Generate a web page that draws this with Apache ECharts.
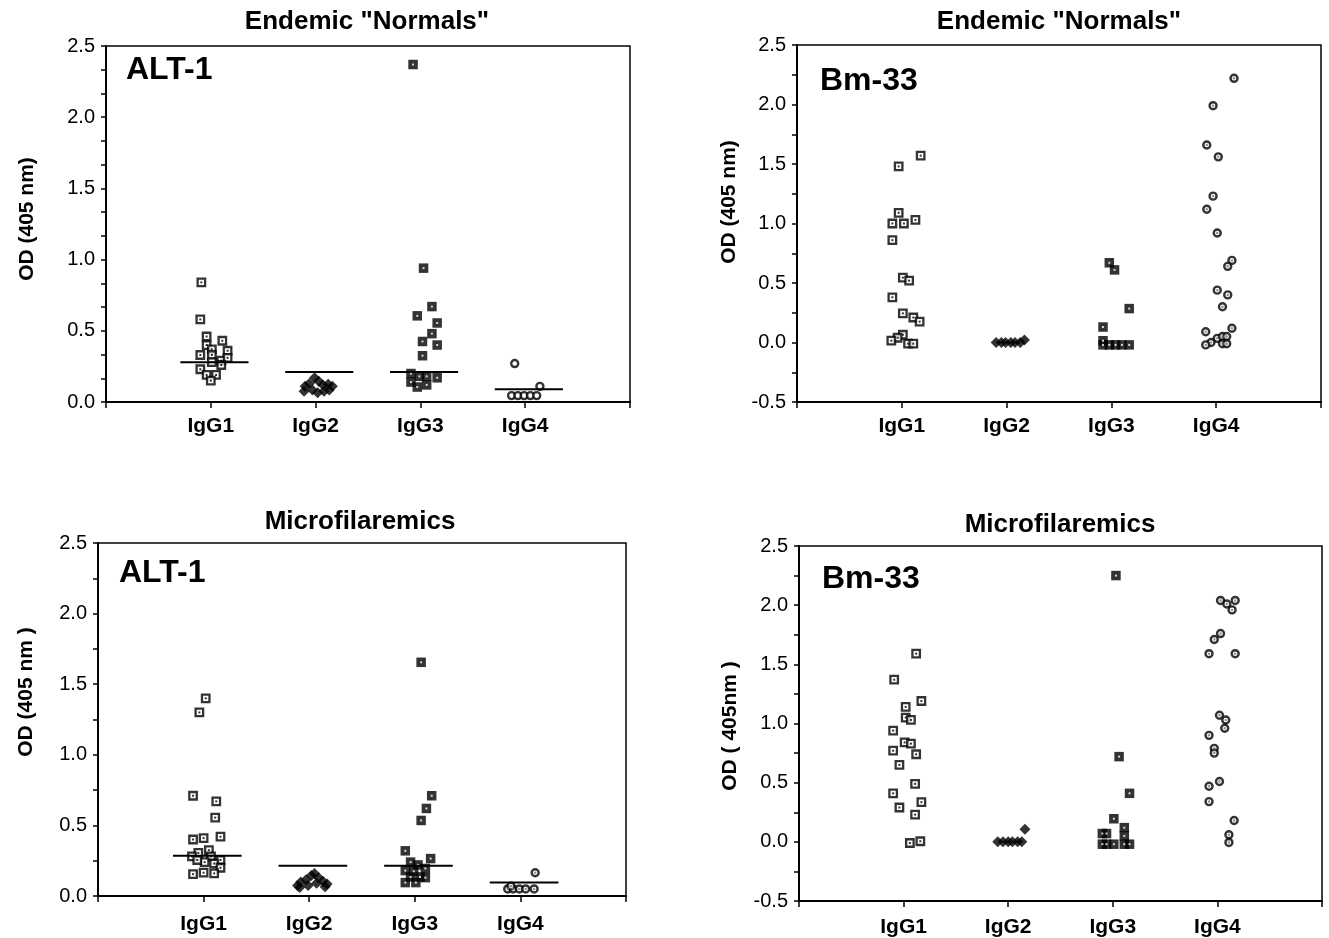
<!DOCTYPE html>
<html><head><meta charset="utf-8">
<script src="https://cdn.jsdelivr.net/npm/echarts@6/dist/echarts.min.js"></script>
<style>html,body{margin:0;padding:0;background:#fff}#c{width:1329px;height:938px}</style>
</head><body><div id="c"></div>
<script>
// ---------- DATA (x = jitter offset from category centre in category units, y = OD) ----------
const categories = ['IgG1', 'IgG2', 'IgG3', 'IgG4'];
const panelTitles = ['Endemic "Normals"', 'Endemic "Normals"', 'Microfilaremics', 'Microfilaremics'];
const antigenLabels = ['ALT-1', 'Bm-33', 'ALT-1', 'Bm-33'];
const yAxisTitles = ['OD (405 nm)', 'OD (405 nm)', 'OD (405 nm )', 'OD ( 405nm )'];
const altTickLabels = ['0.0', '0.5', '1.0', '1.5', '2.0', '2.5'];
const bmTickLabels = ['-0.5', '0.0', '0.5', '1.0', '1.5', '2.0', '2.5'];

// Panel A: ALT-1, Endemic normals
const alt1NormIgG1 = [[-0.09,0.84],[-0.10,0.58],[-0.04,0.46],[-0.04,0.40],[0.11,0.43],[0.01,0.37],[0.16,0.36],[-0.10,0.33],[0.01,0.33],[0.10,0.29],[0.16,0.31],[0.01,0.28],[0.10,0.26],[-0.10,0.23],[-0.04,0.19],[0.05,0.19],[0.00,0.15]];
const alt1NormIgG2 = [[-0.10,0.11],[-0.06,0.13],[-0.01,0.17],[0.03,0.145],[0.07,0.12],[0.12,0.125],[0.16,0.11],[-0.03,0.085],[0.02,0.065],[0.08,0.075],[-0.11,0.075],[0.13,0.085]];
const alt1NormIgG3 = [[-0.07,2.37],[0.03,0.94],[0.11,0.67],[-0.03,0.605],[0.16,0.555],[0.11,0.48],[0.02,0.425],[0.16,0.40],[0.02,0.325],[-0.09,0.20],[-0.01,0.18],[0.06,0.18],[0.16,0.17],[-0.09,0.14],[-0.03,0.105],[0.06,0.12]];
const alt1NormIgG4 = [[-0.10,0.27],[0.14,0.11],[-0.13,0.045],[-0.07,0.045],[-0.01,0.045],[0.05,0.045],[0.11,0.045]];
const alt1NormMeans = [0.28, 0.21, 0.21, 0.09];

// Panel B: Bm-33, Endemic normals
const bm33NormIgG1 = [[0.18,1.57],[-0.03,1.48],[-0.03,1.09],[0.13,1.03],[-0.09,1.00],[0.02,1.00],[-0.09,0.86],[0.01,0.545],[0.07,0.52],[-0.09,0.38],[0.01,0.245],[0.11,0.21],[0.17,0.175],[0.01,0.065],[-0.04,0.04],[-0.10,0.015],[0.06,-0.01],[0.11,-0.01]];
const bm33NormIgG2 = [[-0.10,0.0],[-0.05,0.0],[-0.01,0.0],[0.04,0.0],[0.08,0.0],[0.13,0.0],[0.17,0.02]];
const bm33NormIgG3 = [[-0.02,0.67],[0.03,0.61],[0.17,0.285],[-0.08,0.13],[-0.08,0.015],[-0.08,-0.02],[-0.02,-0.02],[0.04,-0.02],[0.10,-0.02],[0.17,-0.02]];
const bm33NormIgG4 = [[0.17,2.22],[-0.03,1.99],[-0.09,1.66],[0.02,1.56],[-0.03,1.23],[-0.09,1.12],[0.01,0.92],[0.15,0.69],[0.11,0.64],[0.01,0.44],[0.11,0.40],[0.06,0.30],[0.15,0.12],[-0.10,0.09],[0.01,0.035],[0.06,0.05],[0.10,0.05],[-0.05,0.0],[-0.10,-0.02],[0.06,-0.01],[0.10,-0.01]];

// Panel C: ALT-1, Microfilaremics
const alt1MicroIgG1 = [[0.02,1.40],[-0.04,1.30],[-0.10,0.71],[0.12,0.67],[0.11,0.555],[0.16,0.42],[-0.10,0.40],[0.00,0.41],[0.05,0.325],[-0.05,0.305],[-0.11,0.28],[0.07,0.28],[0.01,0.24],[-0.06,0.255],[0.16,0.255],[0.10,0.23],[0.16,0.20],[-0.10,0.155],[0.00,0.165],[0.10,0.16]];
const alt1MicroIgG2 = [[-0.11,0.075],[-0.08,0.10],[-0.03,0.115],[0.02,0.145],[0.05,0.16],[0.09,0.13],[0.13,0.105],[0.17,0.085],[-0.09,0.06],[-0.01,0.075],[0.07,0.09],[0.15,0.065]];
const alt1MicroIgG3 = [[0.06,1.655],[0.16,0.71],[0.11,0.62],[0.06,0.535],[-0.09,0.32],[0.15,0.265],[-0.04,0.24],[0.03,0.22],[-0.09,0.18],[-0.01,0.175],[0.10,0.195],[0.05,0.135],[-0.09,0.095],[0.01,0.095],[0.10,0.13],[-0.04,0.135]];
const alt1MicroIgG4 = [[0.14,0.165],[-0.12,0.05],[-0.07,0.05],[-0.01,0.05],[0.05,0.05],[0.13,0.05],[-0.09,0.07]];
const alt1MicroMeans = [0.285, 0.215, 0.215, 0.095];

// Panel D: Bm-33, Microfilaremics
const bm33MicroIgG1 = [[0.12,1.59],[-0.09,1.37],[0.17,1.19],[0.02,1.14],[0.02,1.05],[0.07,1.03],[-0.10,0.94],[0.01,0.84],[0.07,0.83],[-0.10,0.77],[0.12,0.74],[-0.04,0.65],[0.11,0.49],[-0.10,0.41],[0.17,0.335],[-0.04,0.29],[0.11,0.23],[0.06,-0.01],[0.16,0.005]];
const bm33MicroIgG2 = [[-0.10,0.0],[-0.05,0.0],[0.00,0.0],[0.04,0.0],[0.09,0.0],[0.13,0.0],[0.16,0.107]];
const bm33MicroIgG3 = [[0.03,2.25],[0.06,0.72],[0.16,0.41],[0.01,0.195],[0.11,0.12],[-0.06,0.07],[0.11,0.05],[-0.10,0.07],[-0.10,-0.02],[-0.06,-0.02],[0.01,-0.02],[0.11,-0.02],[0.16,-0.02]];
const bm33MicroIgG4 = [[0.03,2.04],[0.17,2.04],[0.09,2.01],[0.14,1.96],[0.03,1.76],[-0.03,1.71],[-0.08,1.59],[0.17,1.59],[0.02,1.07],[0.08,1.03],[0.07,0.96],[-0.08,0.90],[-0.03,0.79],[-0.03,0.75],[0.02,0.51],[-0.08,0.47],[-0.08,0.34],[0.16,0.18],[0.11,0.06],[0.11,-0.005]];

// ---------- LAYOUT / STYLE ----------
const FONT = '"Liberation Sans", Arial, Helvetica, sans-serif';
const panels = [
  { box: [106, 46, 524, 356], yMin: 0, yMax: 2.5, minor: 3, groups: [alt1NormIgG1, alt1NormIgG2, alt1NormIgG3, alt1NormIgG4], means: alt1NormMeans, ticks: altTickLabels, dotG4: false,
    title: [367, 22], yName: [27, 219], label: [126, 70], xMargin: 14 },
  { box: [797, 45, 524, 357], yMin: -0.5, yMax: 2.5, minor: 2, groups: [bm33NormIgG1, bm33NormIgG2, bm33NormIgG3, bm33NormIgG4], means: null, ticks: bmTickLabels, dotG4: true,
    title: [1059, 22], yName: [729, 202], label: [820, 81], xMargin: 14 },
  { box: [98, 543, 528, 353], yMin: 0, yMax: 2.5, minor: 2, groups: [alt1MicroIgG1, alt1MicroIgG2, alt1MicroIgG3, alt1MicroIgG4], means: alt1MicroMeans, ticks: altTickLabels, dotG4: true,
    title: [360, 522], yName: [26, 692], label: [119, 573], xMargin: 18 },
  { box: [799, 546, 523, 355], yMin: -0.5, yMax: 2.5, minor: 2, groups: [bm33MicroIgG1, bm33MicroIgG2, bm33MicroIgG3, bm33MicroIgG4], means: null, ticks: bmTickLabels, dotG4: true,
    title: [1060, 525], yName: [730, 726], label: [822, 579], xMargin: 16 }
];

const grids = [], xAxes = [], yAxes = [], series = [], graphics = [];

panels.forEach((p, i) => {
  grids.push({ left: p.box[0], top: p.box[1], width: p.box[2], height: p.box[3], containLabel: false, outerBoundsMode: 'none',
    show: true, borderColor: '#000', borderWidth: 1.5, backgroundColor: 'transparent' });
  xAxes.push({ gridIndex: i, type: 'value', min: 0, max: 5, interval: 1,
    axisLine: { show: true, onZero: false, lineStyle: { color: '#000', width: 2 } },
    axisTick: { show: true, length: 6, lineStyle: { color: '#000', width: 1.5 } },
    splitLine: { show: false },
    axisLabel: { margin: p.xMargin, color: '#000', fontFamily: FONT, fontWeight: 'bold', fontSize: 21,
      formatter: v => categories[Math.round(v) - 1] || '' } });
  yAxes.push({ gridIndex: i, type: 'value', min: p.yMin, max: p.yMax, interval: 0.5,
    axisLine: { show: true, lineStyle: { color: '#000', width: 2 } },
    axisTick: { show: true, length: 5, lineStyle: { color: '#000', width: 1.5 } },
    minorTick: { show: true, splitNumber: p.minor, length: 5, lineStyle: { color: '#000', width: 1.5 } },
    splitLine: { show: false },
    axisLabel: { margin: 11, color: '#000', fontFamily: FONT, fontSize: 20,
      formatter: v => p.ticks[Math.round((v - p.yMin) / 0.5)] } });

  const toPts = (arr, k) => arr.map(d => [k + 1 + d[0], d[1]]);
  p.groups.forEach((g, k) => {
    const pts = toPts(g, k);
    let main, dot = null;
    if (k === 0) {
      main = { symbol: 'rect', symbolSize: 7.5, itemStyle: { color: '#fff', borderColor: '#000', borderWidth: 2.3 } };
      dot = { symbol: 'rect', symbolSize: 2, itemStyle: { color: '#000' } };
    } else if (k === 1) {
      main = { symbol: 'diamond', symbolSize: [11, 11], itemStyle: { color: '#000' } };
    } else if (k === 2) {
      main = { symbol: 'rect', symbolSize: 9.5, itemStyle: { color: '#000' } };
      dot = { symbol: 'rect', symbolSize: 2, itemStyle: { color: '#fff' } };
    } else {
      main = { symbol: 'circle', symbolSize: 7, itemStyle: { color: '#fff', borderColor: '#000', borderWidth: 2.4 } };
      if (p.dotG4) dot = { symbol: 'circle', symbolSize: 2.5, itemStyle: { color: '#777' } };
    }
    series.push(Object.assign({ type: 'scatter', xAxisIndex: i, yAxisIndex: i, data: pts, silent: true, animation: false, z: 3 }, main));
    if (dot) series.push(Object.assign({ type: 'scatter', xAxisIndex: i, yAxisIndex: i, data: pts, silent: true, animation: false, z: 4 }, dot));
  });
  if (p.means) {
    p.means.forEach((m, k) => {
      series.push({ type: 'line', xAxisIndex: i, yAxisIndex: i, data: [[k + 1 - 0.29, m], [k + 1 + 0.36, m]],
        symbol: 'none', lineStyle: { color: '#000', width: 2 }, silent: true, animation: false, z: 5 });
    });
  }

  graphics.push({ type: 'text', x: p.title[0], y: p.title[1], style: { text: panelTitles[i], font: 'bold 26px ' + FONT, fill: '#000', textAlign: 'center', textVerticalAlign: 'middle' } });
  graphics.push({ type: 'text', x: p.label[0], y: p.label[1], style: { text: antigenLabels[i], font: 'bold 32px ' + FONT, fill: '#000', textAlign: 'left', textVerticalAlign: 'middle' } });
  graphics.push({ type: 'text', x: p.yName[0], y: p.yName[1], rotation: Math.PI / 2, style: { text: yAxisTitles[i], font: 'bold 21px ' + FONT, fill: '#000', textAlign: 'center', textVerticalAlign: 'middle' } });
});

const chart = echarts.init(document.getElementById('c'), null, { renderer: 'canvas' });
chart.setOption({ animation: false, backgroundColor: '#fff', grid: grids, xAxis: xAxes, yAxis: yAxes, series: series, graphic: graphics });
</script>
</body></html>
